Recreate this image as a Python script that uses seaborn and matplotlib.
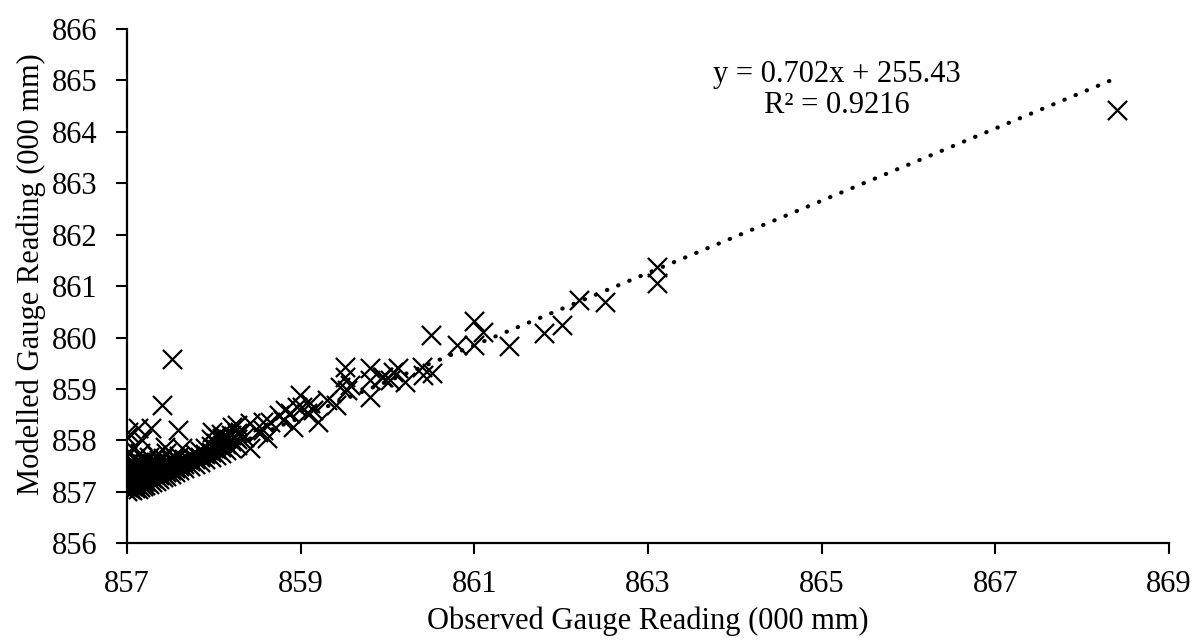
import numpy as np
import pandas as pd
import matplotlib
matplotlib.use("Agg")
import matplotlib.pyplot as plt
import seaborn as sns

# Observed (x) and modelled (y) gauge readings
observed = [
    # dense cluster near 857
    857.00, 857.00, 857.00, 857.00, 857.00, 857.00, 857.00, 857.00, 857.00,
    857.03, 857.03, 857.03, 857.03, 857.03, 857.03, 857.03,
    857.06, 857.06, 857.06, 857.06, 857.06, 857.06, 857.06, 857.06,
    857.09, 857.09, 857.09, 857.09, 857.09, 857.09, 857.09,
    857.12, 857.12, 857.12, 857.12, 857.12, 857.12, 857.12,
    857.15, 857.15, 857.15, 857.15, 857.15, 857.15, 857.15,
    857.18, 857.18, 857.18, 857.18, 857.18, 857.18,
    857.21, 857.21, 857.21, 857.21, 857.21, 857.21,
    857.25, 857.25, 857.25, 857.25, 857.25, 857.25,
    857.29, 857.29, 857.29, 857.29, 857.29,
    857.33, 857.33, 857.33, 857.33, 857.33, 857.33,
    857.37, 857.37, 857.37, 857.37, 857.37,
    857.41, 857.41, 857.41, 857.41, 857.41,
    857.45, 857.45, 857.45, 857.45, 857.45,
    857.50, 857.50, 857.50, 857.50,
    857.55, 857.55, 857.55, 857.55,
    857.60, 857.60, 857.60, 857.60,
    857.66, 857.66, 857.66,
    857.72, 857.72, 857.72,
    857.78, 857.78, 857.78,
    857.84, 857.84, 857.84,
    857.90, 857.90, 857.90,
    857.96, 857.96, 857.96, 857.96,
    858.02, 858.02, 858.02, 858.02,
    858.08, 858.08, 858.08, 858.08,
    858.14, 858.14, 858.14,
    858.20, 858.20, 858.20,
    858.26, 858.26, 858.26,
    # scattered upper points near 857
    857.52, 857.40, 857.01, 857.12, 857.27, 857.59, 857.00, 857.17,
    857.98, 858.09, 858.21, 857.44, 857.63,
    # 858.2 - 860
    859.51, 859.51, 859.80, 859.80, 859.80, 859.94, 859.45, 859.53, 859.57,
    859.40, 859.30, 859.20, 858.99, 859.01, 859.11, 859.14, 859.07, 858.88,
    858.80, 858.91, 858.75, 858.65, 858.56, 858.57, 858.42, 858.42, 858.34,
    858.27, 858.24, 858.30, 858.61, 858.51, 858.96, 858.82,
    # 860 - 863
    859.95, 860.03, 860.06, 860.12, 860.20, 860.40, 860.41, 860.51,
    860.50, 860.80, 860.99, 861.00, 861.10, 861.40, 861.80, 862.01,
    862.21, 862.50, 863.10, 863.10,
    # far point
    868.40,
]
modelled = [
    857.02, 857.10, 857.18, 857.25, 857.33, 857.40, 857.48, 857.55, 857.70,
    857.05, 857.14, 857.22, 857.30, 857.38, 857.46, 857.60,
    857.03, 857.12, 857.20, 857.28, 857.36, 857.44, 857.52, 857.85,
    857.08, 857.16, 857.24, 857.32, 857.41, 857.50, 857.65,
    857.06, 857.14, 857.22, 857.30, 857.38, 857.47, 857.56,
    857.10, 857.18, 857.27, 857.35, 857.44, 857.58, 857.75,
    857.12, 857.20, 857.29, 857.37, 857.46, 857.55,
    857.14, 857.22, 857.31, 857.40, 857.50, 857.62,
    857.16, 857.25, 857.34, 857.43, 857.52, 857.68,
    857.19, 857.27, 857.36, 857.45, 857.56,
    857.22, 857.30, 857.38, 857.47, 857.58, 857.72,
    857.25, 857.33, 857.42, 857.50, 857.62,
    857.28, 857.36, 857.45, 857.55, 857.66,
    857.30, 857.39, 857.48, 857.58, 857.75,
    857.34, 857.43, 857.52, 857.62,
    857.38, 857.46, 857.55, 857.66,
    857.42, 857.50, 857.60, 857.70,
    857.46, 857.55, 857.64,
    857.50, 857.60, 857.70,
    857.55, 857.64, 857.74,
    857.58, 857.68, 857.80,
    857.63, 857.73, 857.85,
    857.67, 857.78, 857.90, 858.02,
    857.72, 857.83, 857.95, 858.08,
    857.76, 857.88, 858.00, 858.12,
    857.82, 857.93, 858.05,
    857.86, 857.98, 858.10,
    857.92, 858.03, 858.14,
    859.58, 858.68, 858.16, 858.24, 858.24, 858.20, 858.06, 858.00,
    858.16, 858.04, 858.26, 857.87, 857.85,
    859.42, 859.23, 859.40, 859.17, 858.84, 859.23, 859.03, 858.98, 859.07,
    858.68, 858.78, 858.35, 858.88, 858.65, 858.72, 858.59, 858.53, 858.53,
    858.39, 858.26, 858.49, 858.35, 858.35, 858.20, 858.33, 857.85, 858.06,
    858.30, 858.06, 858.16, 858.04, 858.16, 858.65, 858.59,
    859.23, 859.17, 859.33, 859.40, 859.13, 859.42, 859.27, 859.31,
    860.05, 859.85, 859.85, 860.32, 860.10, 859.83, 860.09, 860.24,
    860.73, 860.69, 861.37, 861.06,
    864.42,
]

slope = 0.702
intercept = 255.43
equation_text = "y = 0.702x + 255.43\nR² = 0.9216"
x_label = "Observed Gauge Reading (000 mm)"
y_label = "Modelled Gauge Reading (000 mm)"
x_ticks = [857, 859, 861, 863, 865, 867, 869]
y_ticks = [856, 857, 858, 859, 860, 861, 862, 863, 864, 865, 866]

df = pd.DataFrame({"obs": observed, "mod": modelled})
xs = [min(observed), max(observed)]
trend = pd.DataFrame({"obs": xs, "mod": [slope * v + intercept for v in xs]})

sns.set_theme(style="ticks")
plt.rcParams["font.family"] = ["Liberation Serif", "DejaVu Serif"]
plt.rcParams["text.color"] = "black"
plt.rcParams["axes.labelcolor"] = "black"

fig = plt.figure(figsize=(12, 6.43), dpi=100)
ax = fig.add_axes([0.106, 0.155, 0.868, 0.80])

sns.scatterplot(data=df, x="obs", y="mod", marker="x", color="black",
                s=190, linewidth=1.6, ax=ax, zorder=3)
sns.lineplot(data=trend, x="obs", y="mod", color="black", ax=ax,
             linewidth=3.0, linestyle=(0, (0.1, 2.8)),
             dash_capstyle="round", zorder=2)

ax.set_xlim(857, 869)
ax.set_ylim(856, 866)
ax.set_xticks(x_ticks)
ax.set_yticks(y_ticks)
ax.set_xticklabels([str(t) for t in x_ticks], fontsize=22)
ax.set_yticklabels([str(t) for t in y_ticks], fontsize=22)
ax.set_xlabel(x_label, fontsize=22, color="black", labelpad=5)
ax.set_ylabel(y_label, fontsize=22, color="black")
ax.tick_params(axis="both", direction="out", length=8, width=1.5,
               color="black", labelcolor="black")
ax.tick_params(axis="x", pad=11.5)
ax.tick_params(axis="y", pad=13.5)
ax.yaxis.label.set_y(0.523)
for side in ["left", "bottom"]:
    ax.spines[side].set_linewidth(1.6)
    ax.spines[side].set_color("black")
ax.spines["top"].set_visible(False)
ax.spines["right"].set_visible(False)

ax.text(865.18, 864.81, equation_text, fontsize=22, ha="center",
        va="center", multialignment="center", linespacing=1.1,
        color="black")

fig.savefig("out.png", dpi=100)
